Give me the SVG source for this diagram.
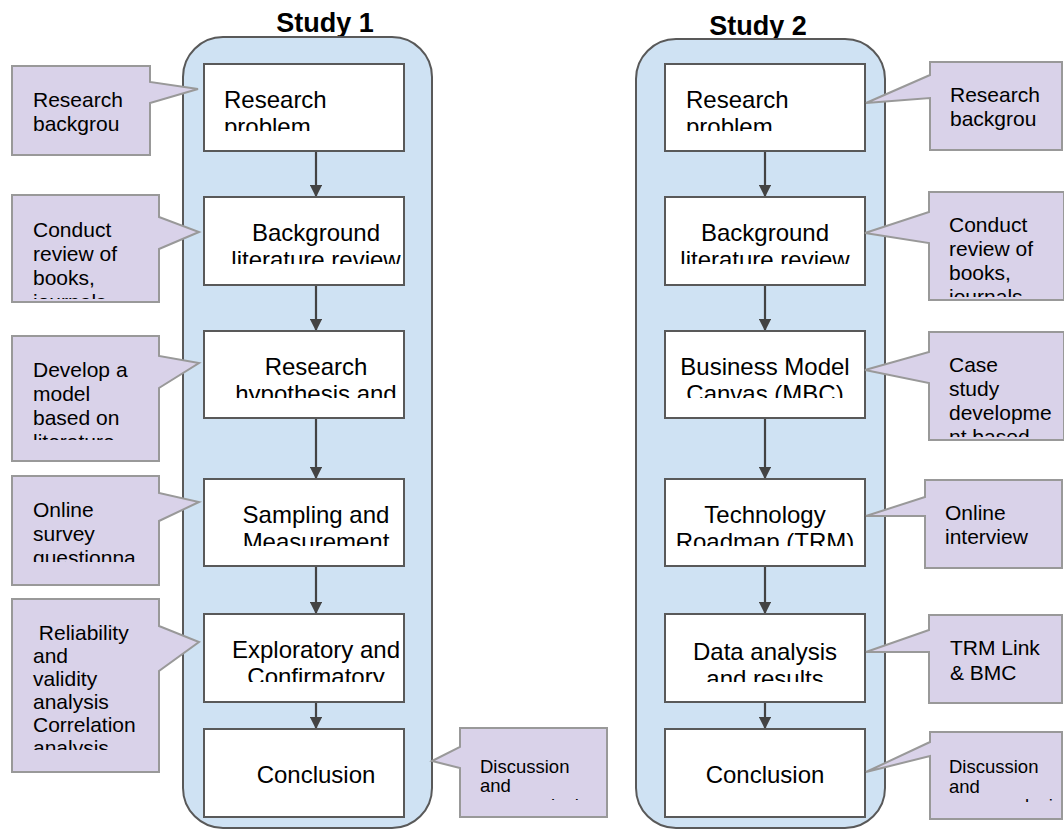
<svg xmlns="http://www.w3.org/2000/svg" width="1064" height="830" viewBox="0 0 1064 830">
  <style>
    .lane { fill: #cfe2f3; stroke: #595959; stroke-width: 2; }
    .step { fill: #ffffff; stroke: #595959; stroke-width: 2; }
    .note { fill: #d9d2e9; stroke: #999999; stroke-width: 2; stroke-linejoin: miter; }
    .title { font-family: "Liberation Sans", Arial, sans-serif; font-weight: bold; font-size: 27px; fill: #000; text-anchor: middle; }
    .st { font-family: "Liberation Sans", Arial, sans-serif; font-size: 24px; fill: #000; }
    .mid { text-anchor: middle; }
    .nt { font-family: "Liberation Sans", Arial, sans-serif; font-size: 21px; fill: #000; }
    .nt-s { font-family: "Liberation Sans", Arial, sans-serif; font-size: 18.5px; fill: #000; }
    .flow { stroke: #434343; stroke-width: 2.2; fill: none; marker-end: url(#head); }
  </style>
  <defs>
    <marker id="head" viewBox="0 0 10 10" refX="9" refY="5" markerWidth="5.5" markerHeight="5.5" orient="auto" markerUnits="strokeWidth">
      <path d="M0,0 L10,5 L0,10 z" fill="#434343"/>
    </marker>
    <clipPath id="c-l1"><rect x="204" y="64" width="200" height="67"/></clipPath>
    <clipPath id="c-l2"><rect x="204" y="197" width="200" height="67"/></clipPath>
    <clipPath id="c-l3"><rect x="204" y="331" width="200" height="67"/></clipPath>
    <clipPath id="c-l4"><rect x="204" y="479" width="200" height="67"/></clipPath>
    <clipPath id="c-l5"><rect x="204" y="614" width="200" height="68"/></clipPath>
    <clipPath id="c-r1"><rect x="665" y="64" width="200" height="67"/></clipPath>
    <clipPath id="c-r2"><rect x="665" y="197" width="200" height="67"/></clipPath>
    <clipPath id="c-r3"><rect x="665" y="331" width="200" height="67"/></clipPath>
    <clipPath id="c-r4"><rect x="665" y="479" width="200" height="67"/></clipPath>
    <clipPath id="c-r5"><rect x="665" y="614" width="200" height="68"/></clipPath>
    <clipPath id="n-l2"><rect x="12" y="195" width="147" height="104"/></clipPath>
    <clipPath id="n-l3"><rect x="12" y="336" width="147" height="104"/></clipPath>
    <clipPath id="n-l4"><rect x="12" y="476" width="147" height="86"/></clipPath>
    <clipPath id="n-l5"><rect x="12" y="599" width="147" height="151"/></clipPath>
    <clipPath id="n-l6"><rect x="460" y="728" width="147" height="72"/></clipPath>
    <clipPath id="n-r2"><rect x="929" y="192" width="135" height="105"/></clipPath>
    <clipPath id="n-r3"><rect x="929" y="332" width="135" height="105"/></clipPath>
    <clipPath id="n-r6"><rect x="930" y="732" width="134" height="70"/></clipPath>
  </defs>

  <!-- column headings -->
  <text class="title" x="325" y="32">Study 1</text>
  <text class="title" x="758" y="35">Study 2</text>

  <!-- study lanes -->
  <rect id="lane-1" class="lane" x="183" y="37" width="249" height="791" rx="40"/>
  <rect id="lane-2" class="lane" x="636" y="39" width="249" height="789" rx="40"/>

  <!-- connectors -->
  <g id="connectors">
    <line class="flow" x1="316" y1="151" x2="316" y2="196"/>
    <line class="flow" x1="316" y1="285" x2="316" y2="330"/>
    <line class="flow" x1="316" y1="418" x2="316" y2="478"/>
    <line class="flow" x1="316" y1="566" x2="316" y2="613"/>
    <line class="flow" x1="316" y1="702" x2="316" y2="728"/>
    <line class="flow" x1="765" y1="151" x2="765" y2="196"/>
    <line class="flow" x1="765" y1="285" x2="765" y2="330"/>
    <line class="flow" x1="765" y1="418" x2="765" y2="478"/>
    <line class="flow" x1="765" y1="566" x2="765" y2="613"/>
    <line class="flow" x1="765" y1="702" x2="765" y2="728"/>
  </g>

  <!-- Study 1 steps -->
  <g id="s1-problem">
    <rect class="step" x="204" y="64" width="200" height="87"/>
    <g clip-path="url(#c-l1)"><text class="st" x="224" y="108">Research</text><text class="st" x="224" y="135">problem</text></g>
  </g>
  <g id="s1-literature">
    <rect class="step" x="204" y="197" width="200" height="88"/>
    <g clip-path="url(#c-l2)"><text class="st mid" x="316" y="241">Background</text><text class="st mid" x="316" y="268">literature review</text></g>
  </g>
  <g id="s1-hypothesis">
    <rect class="step" x="204" y="331" width="200" height="87"/>
    <g clip-path="url(#c-l3)"><text class="st mid" x="316" y="375">Research</text><text class="st mid" x="316" y="402">hypothesis and</text></g>
  </g>
  <g id="s1-sampling">
    <rect class="step" x="204" y="479" width="200" height="87"/>
    <g clip-path="url(#c-l4)"><text class="st mid" x="316" y="523">Sampling and</text><text class="st mid" x="316" y="550">Measurement</text></g>
  </g>
  <g id="s1-analysis">
    <rect class="step" x="204" y="614" width="200" height="88"/>
    <g clip-path="url(#c-l5)"><text class="st mid" x="316" y="658">Exploratory and</text><text class="st mid" x="316" y="685">Confirmatory</text></g>
  </g>
  <g id="s1-conclusion">
    <rect class="step" x="204" y="729" width="200" height="88"/>
    <text class="st mid" x="316" y="783">Conclusion</text>
  </g>

  <!-- Study 2 steps -->
  <g id="s2-problem">
    <rect class="step" x="665" y="64" width="200" height="87"/>
    <g clip-path="url(#c-r1)"><text class="st" x="686" y="108">Research</text><text class="st" x="686" y="135">problem</text></g>
  </g>
  <g id="s2-literature">
    <rect class="step" x="665" y="197" width="200" height="88"/>
    <g clip-path="url(#c-r2)"><text class="st mid" x="765" y="241">Background</text><text class="st mid" x="765" y="268">literature review</text></g>
  </g>
  <g id="s2-canvas">
    <rect class="step" x="665" y="331" width="200" height="87"/>
    <g clip-path="url(#c-r3)"><text class="st mid" x="765" y="375">Business Model</text><text class="st mid" x="765" y="402">Canvas (MBC)</text></g>
  </g>
  <g id="s2-roadmap">
    <rect class="step" x="665" y="479" width="200" height="87"/>
    <g clip-path="url(#c-r4)"><text class="st mid" x="765" y="523">Technology</text><text class="st mid" x="765" y="550">Roadmap (TRM)</text></g>
  </g>
  <g id="s2-results">
    <rect class="step" x="665" y="614" width="200" height="88"/>
    <g clip-path="url(#c-r5)"><text class="st mid" x="765" y="660">Data analysis</text><text class="st mid" x="765" y="687">and results</text></g>
  </g>
  <g id="s2-conclusion">
    <rect class="step" x="665" y="729" width="200" height="88"/>
    <text class="st mid" x="765" y="783">Conclusion</text>
  </g>

  <!-- Study 1 notes -->
  <g id="n1-background">
    <path class="note" d="M12,66 H150 V82 L198,89 L150,103 V155 H12 Z"/>
    <text class="nt" x="33" y="107">Research</text>
    <text class="nt" x="33" y="131">backgrou</text>
  </g>
  <g id="n1-review">
    <path class="note" d="M12,195 H159 V217 L199,232 L159,249 V302 H12 Z"/>
    <g clip-path="url(#n-l2)">
      <text class="nt" x="33" y="237">Conduct</text>
      <text class="nt" x="33" y="261">review of</text>
      <text class="nt" x="33" y="285">books,</text>
      <text class="nt" x="33" y="309">journals</text>
    </g>
  </g>
  <g id="n1-model">
    <path class="note" d="M12,336 H159 V356 L199,363 L159,388 V461 H12 Z"/>
    <g clip-path="url(#n-l3)">
      <text class="nt" x="33" y="377">Develop a</text>
      <text class="nt" x="33" y="401">model</text>
      <text class="nt" x="33" y="425">based on</text>
      <text class="nt" x="33" y="449">literature</text>
    </g>
  </g>
  <g id="n1-survey">
    <path class="note" d="M12,476 H159 V493 L199,502 L159,521 V585 H12 Z"/>
    <g clip-path="url(#n-l4)">
      <text class="nt" x="33" y="517">Online</text>
      <text class="nt" x="33" y="541">survey</text>
      <text class="nt" x="33" y="565">questionna</text>
    </g>
  </g>
  <g id="n1-reliability">
    <path class="note" d="M12,599 H159 V626 L199,642 L159,671 V772 H12 Z"/>
    <g clip-path="url(#n-l5)">
      <text class="nt" x="33" y="640" xml:space="preserve"> Reliability</text>
      <text class="nt" x="33" y="663">and</text>
      <text class="nt" x="33" y="686">validity</text>
      <text class="nt" x="33" y="709">analysis</text>
      <text class="nt" x="33" y="732">Correlation</text>
      <text class="nt" x="33" y="755">analysis</text>
    </g>
  </g>
  <g id="n1-discussion">
    <path class="note" d="M460,728 H607 V817 H460 V768 L432,761 L460,747 Z"/>
    <g clip-path="url(#n-l6)">
      <text class="nt-s" x="480" y="773">Discussion</text>
      <text class="nt-s" x="480" y="792">and</text>
      <text class="nt-s" x="512" y="812">conclusion</text>
    </g>
  </g>

  <!-- Study 2 notes -->
  <g id="n2-background">
    <path class="note" d="M930,62 H1062 V150 H930 V98 L866,103 L930,75 Z"/>
    <text class="nt" x="950" y="102">Research</text>
    <text class="nt" x="950" y="126">backgrou</text>
  </g>
  <g id="n2-review">
    <path class="note" d="M929,192 H1064 V300 H929 V243 L865,233 L929,212 Z"/>
    <g clip-path="url(#n-r2)">
      <text class="nt" x="949" y="232">Conduct</text>
      <text class="nt" x="949" y="256">review of</text>
      <text class="nt" x="949" y="280">books,</text>
      <text class="nt" x="949" y="304">journals</text>
    </g>
  </g>
  <g id="n2-case">
    <path class="note" d="M929,332 H1064 V440 H929 V383 L865,370 L929,352 Z"/>
    <g clip-path="url(#n-r3)">
      <text class="nt" x="949" y="372">Case</text>
      <text class="nt" x="949" y="396">study</text>
      <text class="nt" x="949" y="420">developme</text>
      <text class="nt" x="949" y="444">nt based</text>
    </g>
  </g>
  <g id="n2-interview">
    <path class="note" d="M925,480 H1062 V568 H925 V516 L866,516 L925,497 Z"/>
    <text class="nt" x="945" y="520">Online</text>
    <text class="nt" x="945" y="544">interview</text>
  </g>
  <g id="n2-link">
    <path class="note" d="M929,615 H1062 V703 H929 V652 L866,652 L929,630 Z"/>
    <text class="nt" x="950" y="655">TRM Link</text>
    <text class="nt" x="950" y="680">&amp; BMC</text>
  </g>
  <g id="n2-discussion">
    <path class="note" d="M930,732 H1062 V819 H930 V756 L866,772 L930,742 Z"/>
    <g clip-path="url(#n-r6)">
      <text class="nt-s" x="949" y="773">Discussion</text>
      <text class="nt-s" x="949" y="793">and</text>
      <text class="nt-s" x="986" y="812">conclusion</text>
    </g>
  </g>
</svg>
